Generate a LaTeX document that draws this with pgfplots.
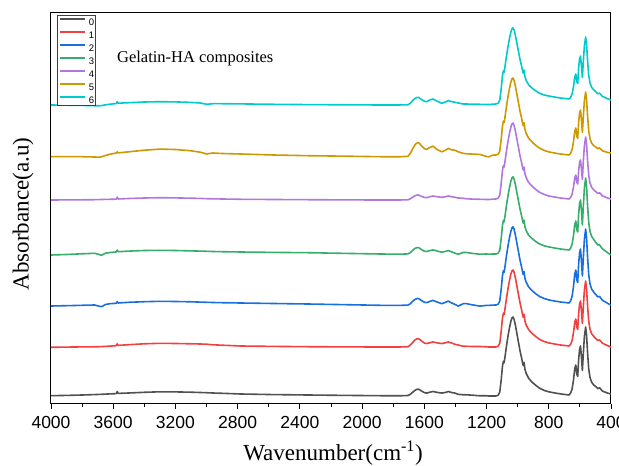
\documentclass[border=0pt]{standalone}
\usepackage{fontspec}
\setmainfont{Liberation Serif}
\newfontfamily\arial{Liberation Sans}
\usepackage{pgfplots}
\usepackage{pgfplotstable}
\pgfplotsset{compat=1.18}
\definecolor{c0}{HTML}{515151}
\definecolor{c1}{HTML}{F14040}
\definecolor{c2}{HTML}{1A6FDF}
\definecolor{c3}{HTML}{37AD6B}
\definecolor{c4}{HTML}{B177DE}
\definecolor{c5}{HTML}{CC9900}
\definecolor{c6}{HTML}{00CBCC}
\pgfplotstableread{
wn s0 s1 s2 s3 s4 s5 s6
4000 8.3 56.7 98.0 149.0 204.0 247.3 299.0
3900 8.6 56.9 98.3 149.5 204.1 247.3 298.8
3800 9.0 57.1 98.7 150.2 204.2 247.3 298.6
3720 9.4 57.2 99.0 150.7 204.3 247.0 298.3
3690 9.6 57.3 97.8 149.5 204.4 246.8 298.2
3675 9.7 57.4 97.3 148.7 204.5 247.2 298.4
3650 9.9 57.6 99.5 150.8 204.6 248.5 299.2
3620 10.1 57.9 100.3 151.5 204.7 249.8 299.8
3590 10.3 58.2 100.6 151.9 204.8 250.7 300.3
3580 10.5 58.4 100.8 152.1 204.9 250.9 300.5
3574 12.5 60.2 102.3 153.9 206.8 252.2 302.3
3568 10.6 58.6 101.0 152.3 205.0 251.1 300.8
3500 11.0 59.3 101.7 152.9 205.5 252.2 301.3
3400 11.7 60.2 102.3 153.5 206.0 253.8 302.0
3300 12.2 60.7 102.7 153.7 206.3 254.9 302.3
3200 12.1 60.5 102.5 153.5 206.1 254.5 302.1
3100 11.8 60.2 102.2 153.1 205.8 253.2 301.6
3040 11.5 60.0 101.9 152.9 205.6 251.8 301.0
3000 11.3 59.8 101.7 152.7 205.3 250.0 299.7
2960 11.0 59.2 101.5 152.5 205.2 251.0 300.3
2900 10.7 58.8 101.3 152.3 205.0 250.5 300.3
2780 10.0 58.0 101.0 152.0 204.7 250.0 300.1
2570 9.4 57.6 100.5 151.6 204.5 249.0 299.7
2350 9.0 57.3 100.0 151.3 204.3 248.3 299.4
2100 8.6 57.1 99.3 150.6 204.1 247.8 299.2
1885 8.3 57.0 98.7 150.0 204.0 247.3 299.0
1760 8.2 57.0 98.6 149.8 204.0 247.2 299.0
1705 8.5 57.3 98.9 150.1 204.2 247.7 299.3
1690 9.7 59.0 100.3 151.4 205.2 250.7 300.8
1675 11.7 61.5 102.6 153.6 206.8 255.2 303.3
1660 13.7 64.0 104.6 155.6 208.3 259.2 305.6
1645 14.8 65.3 105.5 156.4 209.0 261.4 306.6
1635 14.7 65.2 105.4 156.3 208.9 261.2 306.5
1620 13.2 63.3 103.6 154.6 207.7 258.5 304.6
1600 11.4 61.0 101.8 152.8 206.6 255.4 302.8
1585 10.9 60.4 101.3 152.5 206.3 254.6 302.3
1565 11.8 61.3 102.6 153.4 207.3 256.5 304.0
1544 12.5 62.0 103.6 154.1 208.0 257.9 305.0
1520 11.7 61.2 102.1 153.1 207.3 254.7 303.0
1488 10.9 60.4 100.3 151.8 206.7 252.2 300.7
1465 11.5 61.2 101.6 152.6 207.2 253.7 302.0
1446 12.5 62.0 102.9 153.4 208.0 255.6 303.3
1425 11.5 61.0 101.1 152.2 207.3 254.2 302.4
1403 10.9 59.7 99.6 150.8 206.7 253.7 301.7
1382 9.7 59.0 97.9 149.8 206.0 252.2 301.0
1350 9.2 57.7 100.3 151.5 205.7 250.6 300.0
1328 9.2 57.7 100.3 151.5 205.2 250.2 300.0
1290 8.8 57.5 99.1 150.6 204.9 249.9 299.8
1243 8.2 57.5 97.9 149.8 204.7 249.6 299.7
1200 8.2 57.2 98.6 150.0 204.5 247.5 299.5
1185 8.0 57.0 98.6 149.8 204.5 247.2 299.5
1160 8.0 57.0 98.9 150.0 204.8 248.9 299.8
1140 8.0 57.0 99.0 150.0 205.0 249.0 300.0
1125 8.8 57.8 99.8 150.8 205.8 249.8 300.8
1115 11.9 60.8 102.9 153.8 208.8 252.9 303.8
1106 23.8 72.4 114.5 165.2 220.2 264.4 315.0
1098 37.2 85.4 127.7 178.2 233.1 277.5 327.8
1092 42.7 90.8 133.2 183.6 238.4 282.9 333.1
1087 41.1 89.3 131.7 182.2 236.9 281.3 331.7
1081 47.5 95.5 137.9 188.4 243.0 287.5 337.8
1072 57.7 105.5 148.1 198.4 252.9 297.5 347.7
1062 68.0 115.5 158.2 208.4 262.8 307.5 357.6
1052 76.7 124.0 166.8 216.9 271.1 316.0 366.1
1043 83.1 130.2 173.1 223.2 277.2 322.2 372.2
1036 86.2 133.2 176.3 226.3 280.2 325.2 375.3
1030 87.0 134.0 177.1 227.1 281.0 326.0 376.2
1023 84.7 131.8 174.8 224.9 278.7 323.7 374.0
1014 78.4 125.6 168.6 219.0 272.6 317.5 368.2
1005 70.6 118.0 160.9 211.5 265.0 309.8 360.8
995 61.9 109.6 152.5 203.2 256.7 301.4 352.8
985 53.3 101.2 144.0 195.0 248.3 292.9 344.7
976 47.0 95.0 137.9 189.0 242.2 286.7 338.8
969 41.5 89.7 132.5 183.8 236.9 281.3 333.7
964 38.4 86.6 129.4 180.8 233.9 278.3 330.8
959 41.6 89.7 132.5 183.9 236.9 281.3 333.9
953 34.5 82.8 125.6 177.1 230.1 274.4 327.2
945 30.6 79.0 121.8 173.4 226.3 270.6 323.6
930 25.9 74.5 117.2 169.0 221.7 265.9 319.3
915 23.2 71.8 114.6 166.6 219.1 263.3 317.0
900 20.9 69.6 112.4 164.5 216.8 260.9 315.0
880 18.2 67.0 109.8 162.1 214.1 258.2 312.7
860 15.9 64.7 107.6 160.1 211.8 255.9 310.8
830 13.6 62.5 105.5 158.2 209.6 253.6 309.0
800 12.2 61.1 104.1 157.1 208.0 252.1 308.0
760 11.0 59.9 102.9 155.9 206.9 250.9 306.9
720 10.0 58.9 101.9 154.9 205.9 249.9 305.9
690 9.4 58.4 101.4 154.4 205.4 249.4 305.4
670 9.0 58.0 101.0 154.0 205.0 249.0 305.0
660 10.8 59.6 103.0 155.7 206.4 250.6 306.5
650 15.0 63.4 107.6 159.8 209.8 254.4 310.0
641 24.0 71.5 117.5 168.5 217.0 262.5 317.5
633 35.4 81.8 130.0 179.5 226.1 272.8 327.0
626 39.0 85.0 134.0 183.0 229.0 276.0 330.0
620 30.0 76.9 124.1 174.3 221.8 267.9 322.5
614 27.6 74.7 121.5 172.0 219.9 265.7 320.5
608 44.3 90.4 139.9 190.0 233.1 281.4 336.0
602 54.6 99.9 151.2 200.5 241.3 290.9 345.0
596 58.0 103.0 155.0 204.0 244.0 294.0 348.0
590 47.2 93.1 143.1 193.0 235.4 284.1 338.5
584 33.5 80.5 128.0 179.0 224.5 271.5 326.5
578 49.8 97.0 145.4 197.2 242.2 286.8 342.2
571 67.5 113.9 164.6 215.9 258.3 303.2 358.3
563 77.0 123.0 175.0 226.0 267.0 312.0 367.0
557 68.8 115.2 166.1 217.4 259.6 304.4 359.6
550 49.8 97.0 145.4 197.2 242.2 286.8 342.2
543 34.8 82.7 129.1 181.4 228.6 272.9 328.6
535 26.7 74.9 120.2 172.7 221.1 265.4 321.1
525 21.9 70.4 115.1 167.7 216.8 261.0 316.8
512 19.2 67.8 112.1 164.8 214.3 258.5 314.3
498 17.4 65.6 109.5 161.6 212.4 257.0 312.2
485 15.4 63.6 107.1 159.0 210.6 255.3 310.3
474 16.2 64.1 107.6 159.2 211.2 256.1 310.8
466 14.9 62.8 106.0 157.5 210.0 254.9 309.5
455 12.9 60.8 103.7 155.1 208.1 253.2 307.6
440 12.0 59.7 102.4 153.5 207.2 252.4 306.6
420 10.8 58.2 100.5 151.1 205.9 251.5 305.1
400 10.0 57.0 99.0 149.0 205.0 251.0 304.0
}\spectra

\begin{document}
\begin{tikzpicture}
\begin{axis}[
  scale only axis, width=560pt, height=391pt,
  x dir=reverse, xmin=400, xmax=4000, ymin=0, ymax=391,
  xtick={400,800,...,4000}, minor x tick num=1,
  ytick=\empty,
  xtick pos=bottom, tick align=outside,
  major tick length=5pt, minor tick length=3pt,
  every tick/.style={black, line width=0.8pt},
  axis line style={black, line width=1pt},
  /pgf/number format/1000 sep={},
  /pgf/number format/assume math mode=true,
  xticklabel style={font=\arial\fontsize{17.5}{17.5}\selectfont, yshift=-3.5pt},
  xlabel={Wavenumber(cm\textsuperscript{-1})},
  xlabel style={at={(axis description cs:0.5036,-0.144)}, anchor=base, font=\fontsize{23}{23}\selectfont},
  ylabel={Absorbance(a.u)},
  ylabel style={at={(axis description cs:-0.04,0.486)}, anchor=base, font=\fontsize{23}{23}\selectfont},
  legend style={at={(axis description cs:0,1)}, anchor=north west, xshift=6pt, yshift=-2pt,
    draw=black!75, line width=0.6pt, font=\arial\fontsize{9.5}{9.5}\selectfont,
    inner xsep=1.5pt, inner ysep=2.5pt, row sep=5.5pt, column sep=3pt,
    nodes={inner sep=0pt, text height=7pt, text depth=0pt}},
  legend cell align=left,
  legend image code/.code={\draw[#1, line width=2pt, line cap=butt] (0pt,3pt) -- (25pt,3pt);},
  every axis plot/.append style={line width=1.6pt, line join=round},
]
\addplot[c0] table[x=wn, y=s0]{\spectra}; \addlegendentry{0}
\addplot[c1] table[x=wn, y=s1]{\spectra}; \addlegendentry{1}
\addplot[c2] table[x=wn, y=s2]{\spectra}; \addlegendentry{2}
\addplot[c3] table[x=wn, y=s3]{\spectra}; \addlegendentry{3}
\addplot[c4] table[x=wn, y=s4]{\spectra}; \addlegendentry{4}
\addplot[c5] table[x=wn, y=s5]{\spectra}; \addlegendentry{5}
\addplot[c6] table[x=wn, y=s6]{\spectra}; \addlegendentry{6}
\node[anchor=base west, inner sep=0pt, font=\fontsize{16.5}{16.5}\selectfont] at (axis cs:3576,341.3) {Gelatin-HA composites};
\end{axis}
\pgfresetboundingbox
\path[use as bounding box] (-51pt,-62pt) rectangle (568pt,404pt);
\end{tikzpicture}
\end{document}
